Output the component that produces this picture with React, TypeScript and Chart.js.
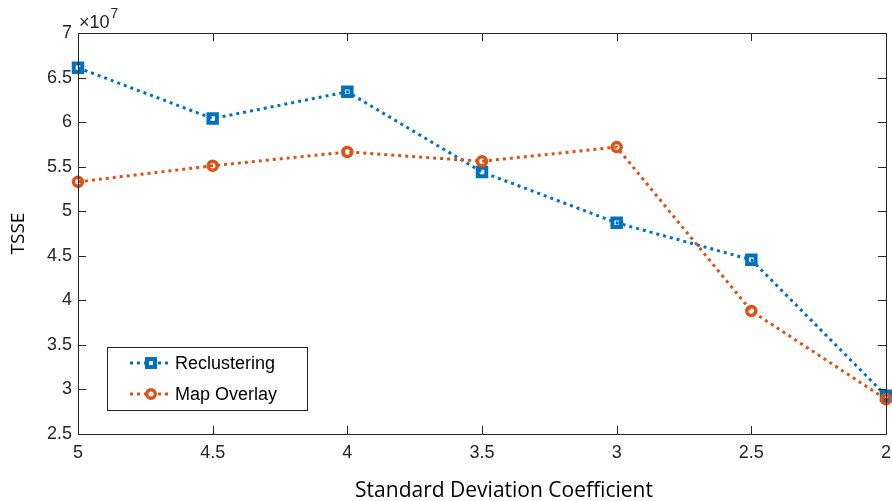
import React, { useEffect, useRef } from "react";
import { Chart, registerables } from "chart.js";

Chart.register(...registerables);

// Data (values in units of 1e7)
const xValues = [5, 4.5, 4, 3.5, 3, 2.5, 2];
const reclustering = [6.61, 6.04, 6.34, 5.44, 4.87, 4.455, 2.93];
const mapOverlay = [5.33, 5.51, 5.665, 5.56, 5.72, 3.88, 2.89];
const xTicks = [5, 4.5, 4, 3.5, 3, 2.5, 2];
const yTicks = [2.5, 3, 3.5, 4, 4.5, 5, 5.5, 6, 6.5, 7];
const seriesNames = ["Reclustering", "Map Overlay"];
const xTitle = "Standard Deviation Coefficient";
const yTitle = "TSSE";
const exponentLabel = "7";

const BLUE = "#0072BD";
const ORANGE = "#D95319";
const AXIS = "#262626";
const TICK_FONT = "'Liberation Sans', Arial, sans-serif";
const TITLE_FONT = "'Open Sans', 'Noto Sans', sans-serif";

const framePlugin = {
  id: "matlabFrame",
  afterDraw(chart: any) {
    const { ctx, chartArea, scales } = chart;
    const { left, right, top, bottom } = chartArea;
    const xs = scales.x;
    const ys = scales.y;
    ctx.save();
    ctx.strokeStyle = AXIS;
    ctx.lineWidth = 1;
    ctx.beginPath();
    ctx.rect(Math.round(left) + 0.5, Math.round(top) + 0.5, Math.round(right - left), Math.round(bottom - top));
    ctx.stroke();
    const tl = 8;
    ctx.beginPath();
    for (const v of xTicks) {
      const px = Math.round(xs.getPixelForValue(v)) + 0.5;
      ctx.moveTo(px, bottom);
      ctx.lineTo(px, bottom - tl);
      ctx.moveTo(px, top);
      ctx.lineTo(px, top + tl);
    }
    for (const v of yTicks) {
      const py = Math.round(ys.getPixelForValue(v)) + 0.5;
      ctx.moveTo(left, py);
      ctx.lineTo(left + tl, py);
      ctx.moveTo(right, py);
      ctx.lineTo(right - tl, py);
    }
    ctx.stroke();

    // exponent label
    ctx.fillStyle = AXIS;
    ctx.textBaseline = "alphabetic";
    ctx.textAlign = "left";
    ctx.font = `18px ${TICK_FONT}`;
    const base = "\u00D710";
    ctx.fillText(base, left + 1, top - 5);
    const w = ctx.measureText(base).width;
    ctx.font = `14px ${TICK_FONT}`;
    ctx.fillText(exponentLabel, left + 1 + w + 1, top - 15);

    // x-axis title
    ctx.fillStyle = "#000000";
    ctx.font = `21px ${TITLE_FONT}`;
    ctx.textAlign = "center";
    ctx.textBaseline = "alphabetic";
    ctx.fillText(xTitle, 504, 497);

    // legend
    const lx = 107.5, ly = 347.5, lw = 200, lh = 63;
    ctx.fillStyle = "#ffffff";
    ctx.fillRect(lx, ly, lw, lh);
    ctx.strokeStyle = AXIS;
    ctx.lineWidth = 1;
    ctx.strokeRect(lx, ly, lw, lh);
    const rows = [363, 394];
    chart.data.datasets.forEach((ds: any, i: number) => {
      const cy = rows[i];
      ctx.save();
      ctx.strokeStyle = ds.borderColor;
      ctx.lineWidth = 3;
      ctx.setLineDash(ds.borderDash);
      ctx.beginPath();
      ctx.moveTo(130, cy);
      ctx.lineTo(172, cy);
      ctx.stroke();
      ctx.setLineDash([]);
      ctx.lineWidth = ds.pointBorderWidth;
      ctx.strokeStyle = ds.pointBorderColor;
      ctx.fillStyle = "#ffffff";
      ctx.beginPath();
      if (ds.pointStyle === "rect") {
        ctx.rect(151 - 4, cy - 4, 8, 8);
      } else {
        ctx.arc(151, cy, 4.25, 0, Math.PI * 2);
      }
      ctx.fill();
      ctx.stroke();
      ctx.restore();
      ctx.fillStyle = "#000000";
      ctx.font = `18px ${TICK_FONT}`;
      ctx.textBaseline = "middle";
      ctx.textAlign = "left";
      ctx.fillText(ds.label, 175, cy + 1);
    });
    ctx.restore();
  },
};

export default function App() {
  const ref = useRef<HTMLCanvasElement>(null);
  useEffect(() => {
    if (!ref.current) return;
    const chart = new Chart(ref.current, {
      type: "line",
      data: {
        datasets: [
          {
            label: seriesNames[0],
            data: xValues.map((x, i) => ({ x, y: reclustering[i] })),
            borderColor: BLUE,
            borderWidth: 3,
            borderDash: [3, 4],
            borderCapStyle: "butt",
            pointStyle: "rect",
            pointRadius: 6,
            pointBorderWidth: 4,
            pointBorderColor: BLUE,
            pointBackgroundColor: "rgba(255,255,255,0)",
            fill: false,
            tension: 0,
            clip: false,
            order: 1,
          },
          {
            label: seriesNames[1],
            data: xValues.map((x, i) => ({ x, y: mapOverlay[i] })),
            borderColor: ORANGE,
            borderWidth: 3,
            borderDash: [3, 4],
            borderCapStyle: "butt",
            pointStyle: "circle",
            pointRadius: 4.5,
            pointBorderWidth: 3.5,
            pointBorderColor: ORANGE,
            pointBackgroundColor: "rgba(255,255,255,0)",
            fill: false,
            tension: 0,
            clip: false,
            order: 0,
          },
        ] as any,
      },
      options: {
        animation: false,
        responsive: false,
        devicePixelRatio: 1,
        layout: { autoPadding: false, padding: { top: 33, right: 6, left: 0, bottom: 0 } },
        plugins: { legend: { display: false }, tooltip: { enabled: false } },
        scales: {
          x: {
            type: "linear",
            reverse: true,
            min: 2,
            max: 5,
            grid: { display: false, drawTicks: false, tickLength: 0 },
            border: { display: false },
            afterBuildTicks: (s: any) => {
              s.ticks = xTicks.map((v) => ({ value: v }));
            },
            ticks: {
              color: AXIS,
              font: { family: TICK_FONT, size: 18 },
              padding: 8,
              maxRotation: 0,
              autoSkip: false,
              callback: (v: any) => String(v),
            },
            title: { display: false, text: xTitle },
            afterFit: (s: any) => {
              s.height = 67;
              s.paddingLeft = 0;
              s.paddingRight = 0;
            },
          },
          y: {
            type: "linear",
            min: 2.5,
            max: 7,
            grid: { display: false, drawTicks: false, tickLength: 0 },
            border: { display: false },
            afterBuildTicks: (s: any) => {
              s.ticks = yTicks.map((v) => ({ value: v }));
            },
            ticks: {
              color: AXIS,
              font: { family: TICK_FONT, size: 18 },
              padding: 6,
              autoSkip: false,
              callback: (v: any) => String(v),
            },
            title: {
              display: true,
              text: yTitle,
              color: "#000000",
              font: { family: TITLE_FONT, size: 19 },
              padding: { top: 7, bottom: 0 },
            },
            afterFit: (s: any) => {
              s.width = 78;
              s.paddingTop = 0;
              s.paddingBottom = 0;
            },
          },
        },
      } as any,
      plugins: [framePlugin],
    });
    return () => chart.destroy();
  }, []);
  return (
    <div style={{ position: "absolute", left: 0, top: 0, width: 892, height: 501, background: "#fff" }}>
      <canvas ref={ref} width={892} height={501} />
    </div>
  );
}
